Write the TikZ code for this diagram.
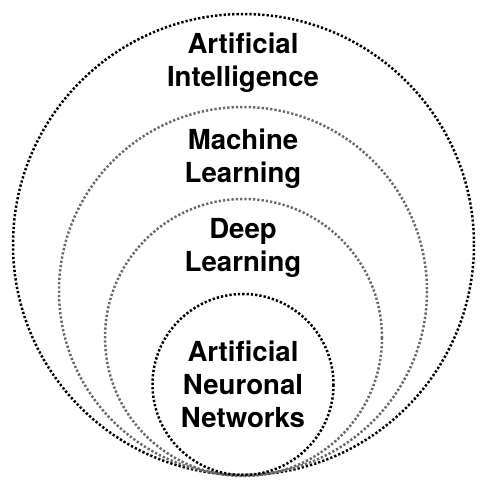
\documentclass[tikz,border=0pt]{standalone}
\usepackage{fontspec}
\setmainfont{TeX Gyre Heros}
\begin{document}
\begin{tikzpicture}[x=1pt,y=-1pt,
  dotring/.style={line width=2.5pt, dash pattern=on 2.3pt off 2.0pt},
  blackring/.style={dotring, draw=black},
  grayring/.style={dotring, draw=black!58},
  label/.style={font=\fontsize{27.6}{33}\selectfont\bfseries, align=center, anchor=base, inner sep=0pt, text=black}]
\useasboundingbox (0,0) rectangle (487,484);
\coordinate (cai) at (243.5,244.5);
\coordinate (cml) at (243,291);
\coordinate (cdl) at (243.5,337.5);
\coordinate (cann) at (243,384.5);
\draw[blackring] (cai) circle (230.5);
\draw[grayring] (cml) circle (184);
\draw[grayring] (cdl) circle (138.5);
\draw[blackring] (cann) circle (90.5);
\node[label] (ai) at (243,87) {Artificial\\Intelligence};
\node[label] (ml) at (243,182.5) {Machine\\Learning};
\node[label] (dl) at (243,271.5) {Deep\\Learning};
\node[label] (ann) at (243,427) {Artificial\\Neuronal\\Networks};
\end{tikzpicture}
\end{document}
